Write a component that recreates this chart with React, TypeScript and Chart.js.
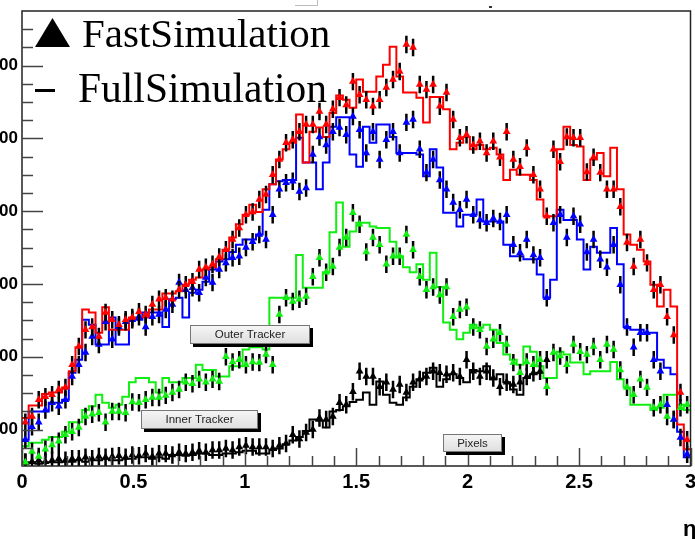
import React, { useEffect, useRef } from "react";
import { Chart, registerables } from "chart.js";

Chart.register(...registerables);

// ---- binning (eta from 0 to 3, 100 bins) ----
const etaMin = 0;
const etaMax = 3;
const binWidth = 0.03;
const binEdges = Array.from({ length: 101 }, (_, i) => Math.round(i * 3) / 100);

// ---- axis ticks ----
const xTickValues = [0, 0.5, 1, 1.5, 2, 2.5, 3];
const xTickLabels = ["0", "0.5", "1", "1.5", "2", "2.5", "3"];
const yTickValues = [100, 200, 300, 400, 500, 600];
const yTickLabels = ["100", "200", "300", "400", "500", "600"];
const yMin = 50;
const yMax = 675;

// ---- Total (red) ----
const redFull = [
  116, 133, 133, 149, 151, 151, 158, 180, 213, 265,
  261, 233, 268, 237, 237, 237, 254, 254, 254, 265,
  265, 287, 287, 290, 299, 306, 309, 320, 323, 334,
  347, 364, 382, 395, 409, 399, 430, 437, 471, 485,
  494, 533, 467, 509, 515, 502, 535, 559, 553, 542,
  581, 564, 564, 585, 601, 626, 585, 563, 563, 556,
  522, 557, 557, 540, 485, 494, 502, 485, 491, 485,
  487, 478, 443, 457, 450, 450, 443, 416, 393, 393,
  485, 516, 491, 489, 443, 471, 480, 448, 487, 430,
  368, 354, 347, 331, 299, 269, 292, 269, 107, 73,
];
const redFast = [
  110, 118, 141, 145, 148, 155, 158, 189, 214, 237,
  241, 228, 261, 251, 244, 251, 254, 262, 258, 272,
  279, 281, 279, 292, 299, 303, 320, 323, 327, 337,
  347, 361, 377, 395, 399, 416, 423, 450, 471, 494,
  498, 509, 519, 519, 537, 519, 540, 556, 546, 578,
  560, 553, 544, 553, 570, 581, 592, 629, 625, 574,
  567, 574, 544, 563, 526, 501, 505, 491, 496, 480,
  496, 474, 509, 471, 461, 487, 450, 430, 393, 485,
  468, 502, 501, 501, 454, 474, 453, 430, 430, 406,
  357, 324, 361, 329, 292, 299, 255, 230, 151, 86,
];

// ---- Outer Tracker (blue) ----
const blueFull = [
  86, 125, 125, 125, 137, 137, 141, 178, 196, 251,
  244, 217, 217, 254, 217, 217, 251, 251, 261, 261,
  261, 241, 279, 281, 254, 288, 292, 303, 320, 331,
  334, 344, 354, 361, 361, 368, 402, 437, 441, 443,
  443, 501, 467, 467, 430, 467, 516, 529, 529, 478,
  461, 516, 494, 519, 519, 502, 480, 480, 480, 478,
  448, 485, 460, 398, 398, 379, 395, 395, 416, 386,
  386, 386, 354, 338, 338, 334, 334, 313, 281, 306,
  402, 388, 388, 361, 320, 351, 343, 343, 377, 327,
  241, 237, 237, 233, 233, 196, 185, 176, 97, 62,
];
const blueFast = [
  86, 104, 110, 127, 137, 132, 141, 173, 189, 206,
  228, 217, 248, 224, 241, 248, 251, 255, 241, 255,
  258, 265, 272, 302, 292, 295, 288, 309, 302, 320,
  329, 336, 338, 350, 358, 368, 361, 395, 430, 439,
  441, 427, 432, 478, 502, 491, 509, 515, 505, 530,
  512, 480, 509, 471, 498, 509, 480, 522, 526, 485,
  453, 471, 443, 430, 412, 402, 416, 395, 388, 384,
  390, 386, 395, 354, 343, 361, 340, 336, 281, 384,
  395, 364, 393, 382, 344, 361, 334, 323, 354, 299,
  241, 213, 233, 233, 196, 180, 134, 114, 89, 66,
];

// ---- Inner Tracker (green) ----
const greenFull = [
  77, 82, 82, 86, 90, 90, 97, 110, 110, 127,
  132, 148, 137, 130, 134, 145, 165, 171, 171, 165,
  151, 171, 165, 165, 171, 171, 189, 182, 182, 173,
  173, 187, 187, 210, 213, 213, 210, 281, 281, 281,
  281, 340, 295, 295, 295, 316, 371, 412, 351, 372,
  384, 384, 379, 377, 377, 358, 338, 323, 316, 327,
  306, 343, 296, 247, 237, 224, 233, 244, 240, 244,
  237, 219, 203, 196, 189, 214, 207, 187, 171, 171,
  207, 203, 192, 192, 176, 180, 180, 180, 193, 169,
  158, 134, 134, 134, 127, 130, 148, 148, 134, 127,
];
const greenFast = [
  55, 70, 63, 73, 79, 84, 93, 97, 103, 118,
  121, 123, 110, 125, 125, 123, 138, 137, 141, 144,
  144, 147, 151, 155, 165, 163, 169, 165, 169, 166,
  200, 193, 196, 189, 193, 192, 203, 189, 258, 281,
  276, 279, 283, 310, 336, 316, 324, 350, 364, 398,
  382, 344, 364, 354, 327, 338, 338, 368, 347, 310,
  292, 296, 285, 296, 255, 265, 268, 241, 237, 214,
  224, 233, 217, 192, 178, 193, 189, 196, 159, 206,
  201, 189, 217, 207, 203, 214, 196, 217, 210, 182,
  158, 148, 169, 158, 130, 134, 118, 114, 130, 134,
];

// ---- Pixels (black), |eta| < ~2.35 ----
const pixFull = [
  53, 55, 53, 55, 55, 55, 56, 56, 58, 56,
  58, 58, 60, 58, 58, 60, 60, 62, 62, 60,
  62, 60, 65, 65, 64, 65, 67, 67, 65, 65,
  67, 67, 69, 71, 71, 67, 67, 72, 74, 80,
  85, 90, 98, 114, 112, 103, 125, 127, 132, 138,
  141, 151, 134, 166, 148, 137, 134, 144, 159, 169,
  178, 185, 159, 169, 176, 171, 165, 182, 180, 187,
  169, 176, 165, 155, 148, 171, 176, 178,
];
const pixFast = [
  55, 56, 58, 56, 58, 60, 58, 60, 60, 62,
  60, 63, 62, 63, 64, 62, 65, 64, 67, 63,
  67, 67, 65, 69, 67, 69, 71, 69, 72, 72,
  74, 72, 76, 78, 76, 76, 76, 74, 78, 81,
  93, 87, 96, 100, 116, 114, 118, 137, 134, 152,
  180, 173, 173, 159, 165, 155, 162, 151, 165, 169,
  173, 180, 178, 176, 178, 173, 196, 180, 173, 180,
  171, 159, 165, 162, 165, 173, 178, 180, 196,
];

const fastError = 12;

const RED = "#ff0000";
const BLUE = "#0000ff";
const GREEN = "#11ee11";
const BLACK = "#000000";

function stepPoints(vals: number[]) {
  const pts = vals.map((v, i) => ({ x: binEdges[i], y: v }));
  pts.push({ x: binEdges[vals.length], y: vals[vals.length - 1] });
  return pts;
}
function markerPoints(vals: number[]) {
  return vals.map((v, i) => ({ x: binEdges[i] + binWidth / 2, y: v }));
}

const errorBarPlugin = {
  id: "errbars",
  beforeDatasetDraw(chart: any, args: any) {
    const ds = chart.data.datasets[args.index];
    if (!ds.errorBar) return;
    const { ctx, chartArea, scales } = chart;
    ctx.save();
    ctx.beginPath();
    ctx.rect(chartArea.left, chartArea.top, chartArea.width, chartArea.height);
    ctx.clip();
    ctx.strokeStyle = "#000";
    ctx.lineWidth = 2.5;
    ctx.beginPath();
    ds.data.forEach((p: any) => {
      const x = scales.x.getPixelForValue(p.x);
      ctx.moveTo(x, scales.y.getPixelForValue(p.y + ds.errorBar));
      ctx.lineTo(x, scales.y.getPixelForValue(p.y - ds.errorBar));
    });
    ctx.stroke();
    ctx.restore();
  },
};

function drawPave(ctx: CanvasRenderingContext2D, x: number, y: number, w: number, h: number, text: string) {
  ctx.fillStyle = "#000";
  ctx.fillRect(x + 3, y + 3, w, h);
  const g = ctx.createLinearGradient(0, y, 0, y + h);
  g.addColorStop(0, "#f6f6f6");
  g.addColorStop(1, "#dedede");
  ctx.fillStyle = g;
  ctx.fillRect(x, y, w, h);
  ctx.strokeStyle = "#777";
  ctx.lineWidth = 1;
  ctx.strokeRect(x + 0.5, y + 0.5, w - 1, h - 1);
  ctx.fillStyle = "#222";
  ctx.font = '11.5px "Liberation Sans"';
  ctx.textAlign = "center";
  ctx.textBaseline = "middle";
  ctx.fillText(text, x + w / 2, y + h / 2 + 0.5);
}

const rootFramePlugin = {
  id: "rootframe",
  afterDraw(chart: any) {
    const { ctx, chartArea, scales } = chart;
    const { left, right, top, bottom } = chartArea;
    ctx.save();
    // frame
    ctx.strokeStyle = "#222";
    ctx.lineWidth = 1.5;
    ctx.strokeRect(left, top, right - left, bottom - top);
    // y ticks (inside)
    ctx.strokeStyle = "#444";
    ctx.lineWidth = 1.5;
    ctx.beginPath();
    for (let v = 75; v < yMax; v += 25) {
      const y = Math.round(scales.y.getPixelForValue(v)) + 0.5;
      const len = v % 100 === 0 ? 21 : 11;
      ctx.moveTo(left, y);
      ctx.lineTo(left + len, y);
    }
    // x ticks (inside)
    for (let k = 0; k <= 30; k++) {
      const x = Math.round(scales.x.getPixelForValue(k / 10)) + 0.5;
      const len = k % 5 === 0 ? 18 : 10;
      ctx.moveTo(x, bottom);
      ctx.lineTo(x, bottom - len);
    }
    ctx.stroke();

    // sub-detector labels
    drawPave(ctx, 190, 325, 120, 19, "Outer Tracker");
    drawPave(ctx, 141, 410, 117, 19, "Inner Tracker");
    drawPave(ctx, 443, 434, 59, 18, "Pixels");

    // legend
    ctx.fillStyle = "#000";
    ctx.beginPath();
    ctx.moveTo(52.5, 18);
    ctx.lineTo(70, 47);
    ctx.lineTo(35, 47);
    ctx.closePath();
    ctx.fill();
    ctx.fillRect(35, 89, 20, 3);
    ctx.textAlign = "left";
    ctx.textBaseline = "alphabetic";
    ctx.font = '41px "Liberation Serif"';
    ctx.fillText("FastSimulation", 82, 47);
    ctx.font = '41.5px "Liberation Serif"';
    ctx.fillText("FullSimulation", 78, 102);

    // axis title (cut at the right edge)
    ctx.font = 'bold 22px "Liberation Sans"';
    ctx.fillText("η", 683, 536);

    // remnants above the frame
    ctx.strokeStyle = "#bbb";
    ctx.lineWidth = 1;
    ctx.beginPath();
    ctx.moveTo(295, 5.5);
    ctx.lineTo(317.5, 5.5);
    ctx.lineTo(317.5, 0);
    ctx.stroke();
    ctx.fillStyle = "#333";
    ctx.fillRect(489, 6, 3, 2);
    ctx.restore();
  },
};

function stepDataset(vals: number[], color: string) {
  return {
    type: "scatter",
    data: stepPoints(vals),
    showLine: true,
    stepped: true,
    borderColor: color,
    borderWidth: 2,
    pointRadius: 0,
    fill: false,
    order: 2,
  };
}
function markerDataset(vals: number[], color: string) {
  return {
    type: "scatter",
    data: markerPoints(vals),
    showLine: false,
    pointStyle: "triangle",
    pointRadius: 4.5,
    backgroundColor: color,
    borderColor: color,
    borderWidth: 0,
    errorBar: fastError,
    order: 1,
  };
}

export default function App() {
  const ref = useRef<HTMLCanvasElement | null>(null);
  useEffect(() => {
    if (!ref.current) return;
    const chart = new Chart(ref.current, {
      type: "scatter",
      data: {
        datasets: [
          stepDataset(redFull, RED),
          stepDataset(blueFull, BLUE),
          stepDataset(greenFull, GREEN),
          stepDataset(pixFull, BLACK),
          markerDataset(redFast, RED),
          markerDataset(blueFast, BLUE),
          markerDataset(greenFast, GREEN),
          markerDataset(pixFast, BLACK),
        ] as any,
      },
      options: {
        animation: false,
        responsive: false,
        devicePixelRatio: 1,
        events: [],
        layout: { padding: { top: 11, right: 2, left: 0, bottom: 0 } },
        plugins: { legend: { display: false }, tooltip: { enabled: false } },
        scales: {
          x: {
            type: "linear",
            min: etaMin,
            max: etaMax,
            grid: { display: false, drawTicks: false },
            border: { display: false },
            ticks: {
              autoSkip: false,
              maxRotation: 0,
              padding: 4,
              color: "#000",
              font: { family: "Liberation Sans", weight: "bold", size: 20 },
              callback: (_v: any, i: number) => xTickLabels[i],
            },
            afterBuildTicks: (s: any) => {
              s.ticks = xTickValues.map((v) => ({ value: v }));
            },
            afterFit: (s: any) => {
              s.height = 73;
              s.paddingLeft = 0;
              s.paddingRight = 0;
            },
          },
          y: {
            type: "linear",
            min: yMin,
            max: yMax,
            grid: { display: false, drawTicks: false },
            border: { display: false },
            ticks: {
              autoSkip: false,
              padding: 4,
              color: "#000",
              font: { family: "Liberation Sans", weight: "bold", size: 17 },
              callback: (_v: any, i: number) => yTickLabels[i],
            },
            afterBuildTicks: (s: any) => {
              s.ticks = yTickValues.map((v) => ({ value: v }));
            },
            afterFit: (s: any) => {
              s.width = 22;
              s.paddingTop = 0;
              s.paddingBottom = 0;
            },
          },
        },
      } as any,
      plugins: [errorBarPlugin, rootFramePlugin],
    });
    return () => chart.destroy();
  }, []);
  return (
    <div style={{ position: "fixed", left: 0, top: 0, width: 695, height: 539, background: "#fff" }}>
      <canvas ref={ref} width={695} height={539} style={{ display: "block" }} />
    </div>
  );
}
